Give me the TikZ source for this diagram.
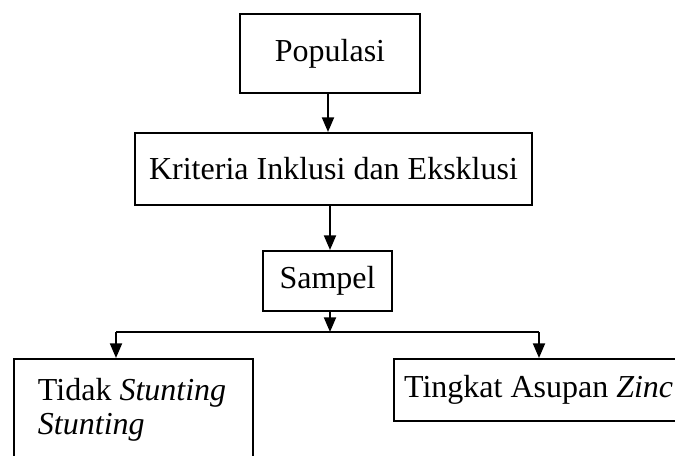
\documentclass[tikz,border=0pt]{standalone}
\usepackage{fontspec}
\setmainfont{Liberation Serif}
\usetikzlibrary{arrows.meta, positioning}
\tikzstyle{flow}=[x=0.375pt, y=-0.375pt, >={Triangle[width=4.5pt,length=5.5pt]}, font=\fontsize{12pt}{13pt}\selectfont]
\tikzstyle{kotak}=[draw, line width=0.75pt, inner sep=0pt]

\begin{document}
\begin{tikzpicture}[flow]
  \useasboundingbox (0,0) rectangle (675,456);
  \clip (0,0) rectangle (675,456);
  \node[kotak,minimum width=67.5pt,minimum height=29.6pt] (pop) at (330,53.5) {Populasi};
  \node[kotak,minimum width=148.9pt,minimum height=27pt] (krit) at (333.5,169) {Kriteria Inklusi dan Eksklusi};
  \node[kotak,minimum width=48.4pt,minimum height=22.5pt] (sampel) at (327.5,281) {Sampel};
  \node[kotak,anchor=north west,inner ysep=6.3pt] (tidak) at (13,358) {\makebox[89.6pt][l]{\hspace{9pt}\begin{tabular}[t]{@{}l@{}}Tidak \textit{Stunting}\\\textit{Stunting}\end{tabular}}};
  \node[kotak,anchor=north west,minimum height=23.25pt] (asupan) at (393,358) {\makebox[115pt][l]{\hspace{3.8pt}Tingkat Asupan \textit{Zinc}}};
  \coordinate (cabang) at (330,332);
  \coordinate (kiri) at (116,332);
  \coordinate (kanan) at (539,332);
  \draw[->, line width=0.75pt] (pop.south -| 328,0) -- (krit.north -| 328,0);
  \draw[->, line width=0.75pt] (krit.south -| 330,0) -- (sampel.north -| 330,0);
  \draw[->, line width=0.75pt] (sampel.south -| cabang) -- (cabang);
  \draw[line width=0.5pt] (kiri) -- (kanan);
  \draw[->, line width=0.75pt] (kiri) -- (tidak.north -| kiri);
  \draw[->, line width=0.75pt] (kanan) -- (asupan.north -| kanan);
\end{tikzpicture}
\end{document}
